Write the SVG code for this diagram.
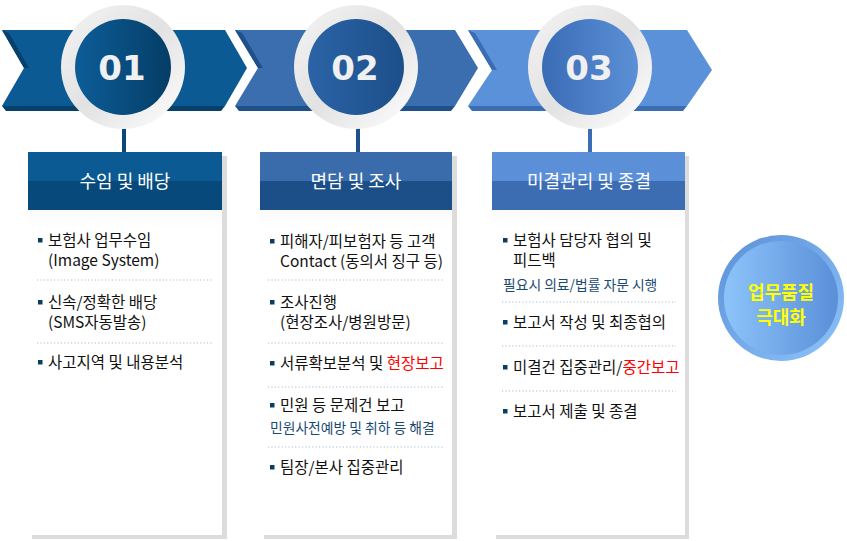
<svg xmlns="http://www.w3.org/2000/svg" width="847" height="541" viewBox="0 0 847 541">
<defs>
<linearGradient id="ring" x1="0" y1="0" x2="1" y2="1"><stop offset="0" stop-color="#f4f4f4"/><stop offset="0.5" stop-color="#e2e2e2"/><stop offset="1" stop-color="#ffffff"/></linearGradient>
<linearGradient id="c1" x1="0" y1="0" x2="1" y2="0"><stop offset="0" stop-color="#0d5d98"/><stop offset="1" stop-color="#053d66"/></linearGradient>
<linearGradient id="c2" x1="0" y1="0" x2="1" y2="0"><stop offset="0" stop-color="#2b63a6"/><stop offset="1" stop-color="#1c4f8a"/></linearGradient>
<linearGradient id="c3" x1="0" y1="0" x2="1" y2="0"><stop offset="0" stop-color="#3a6cb6"/><stop offset="1" stop-color="#5b90d6"/></linearGradient>
<linearGradient id="body" x1="0" y1="0" x2="0" y2="1"><stop offset="0" stop-color="#ececec"/><stop offset="0.2" stop-color="#ffffff"/><stop offset="1" stop-color="#ffffff"/></linearGradient>
<linearGradient id="bigIn" x1="0" y1="0" x2="1" y2="0"><stop offset="0" stop-color="#8cc4fa"/><stop offset="1" stop-color="#5a8fd8"/></linearGradient>
<linearGradient id="bigOut" x1="0" y1="0" x2="1" y2="1"><stop offset="0" stop-color="#5c90d8"/><stop offset="1" stop-color="#8cc4fa"/></linearGradient>
</defs>
<style>
.t{font-family:"Noto Sans CJK KR","Noto Sans",sans-serif;font-size:15.5px;fill:#111;}
.s{font-family:"Noto Sans CJK KR","Noto Sans",sans-serif;font-size:13.8px;fill:#1a4a72;}
.h{font-family:"Noto Sans CJK KR","Noto Sans",sans-serif;font-size:18px;fill:#fff;text-anchor:middle;}
.n{font-family:"DejaVu Sans","Liberation Sans",sans-serif;font-size:34px;font-weight:bold;fill:#f0f0f0;text-anchor:middle;}
.big{font-family:"Noto Sans CJK KR",sans-serif;font-size:18px;font-weight:bold;fill:#ffff00;text-anchor:middle;}
.red{fill:#ff0000;}
.dot{stroke:#a8bccd;stroke-width:1.2;stroke-dasharray:1.2 2.2;fill:none;}
.sh{fill:#dcdcdc;}
.b{fill:#0a3d62;}
</style>

<g id="chevrons">
<polygon points="2,30 225,30 247,68 225,106 2,106 24,68" fill="#0b5a93"/>
<polygon points="2,106 225,106 221,111 6,111" fill="#07406b"/>
<polygon points="2,30 24,68 29,68 9,33" fill="#07406b"/>
<polygon points="235,30 455,30 478,68 455,106 235,106 258,68" fill="#3a6eae"/>
<polygon points="235,106 455,106 451,111 239,111" fill="#1f5089"/>
<polygon points="235,30 258,68 263,68 242,33" fill="#1f5089"/>
<polygon points="468,30 687,30 712,70 687,106 468,106 492,70" fill="#5b91d9"/>
<polygon points="468,106 687,106 683,111 472,111" fill="#3b6db3"/>
<polygon points="468,30 492,70 497,70 475,33" fill="#3b6db3"/>
</g>

<g id="connectors">
<line x1="124" y1="128" x2="124" y2="153" stroke="#0a4877" stroke-width="4"/>
<line x1="358" y1="128" x2="358" y2="153" stroke="#1f5089" stroke-width="4"/>
<line x1="590" y1="128" x2="590" y2="153" stroke="#3b6db3" stroke-width="4"/>
</g>

<g id="step1">
<circle cx="123" cy="67" r="62" fill="url(#ring)"/>
<circle cx="123" cy="67" r="48" fill="url(#c1)"/>
<text class="n" x="122" y="80">01</text>
</g>
<g id="step2">
<circle cx="356" cy="67" r="62" fill="url(#ring)"/>
<circle cx="356" cy="67" r="48" fill="url(#c2)"/>
<text class="n" x="355" y="80">02</text>
</g>
<g id="step3">
<circle cx="590" cy="67" r="62" fill="url(#ring)"/>
<circle cx="590" cy="67" r="48" fill="url(#c3)"/>
<text class="n" x="589" y="80">03</text>
</g>

<g id="box1">
<rect class="sh" x="32" y="156" width="195" height="383"/>
<rect x="28" y="152" width="194" height="383" fill="url(#body)"/>
<rect x="28" y="152" width="194" height="29" fill="#0b5a93"/>
<rect x="28" y="181" width="194" height="29" fill="#06497a"/>
<text class="h" x="125" y="188">수임 및 배당</text>
<rect class="b" x="38" y="238" width="4.5" height="4.5"/>
<text class="t" x="48" y="246">보험사  업무수임</text>
<text class="t" x="48" y="266">(Image System)</text>
<line class="dot" x1="37" y1="280" x2="212" y2="280"/>
<rect class="b" x="38" y="300" width="4.5" height="4.5"/>
<text class="t" x="48" y="308">신속/정확한  배당</text>
<text class="t" x="48" y="328">(SMS자동발송)</text>
<line class="dot" x1="37" y1="343" x2="212" y2="343"/>
<rect class="b" x="38" y="360" width="4.5" height="4.5"/>
<text class="t" x="48" y="368">사고지역 및  내용분석</text>
</g>

<g id="box2">
<rect class="sh" x="264" y="156" width="193" height="383"/>
<rect x="260" y="152" width="192" height="383" fill="url(#body)"/>
<rect x="260" y="152" width="192" height="29" fill="#3a6cab"/>
<rect x="260" y="181" width="192" height="29" fill="#1c4f88"/>
<text class="h" x="356" y="188">면담 및 조사</text>
<rect class="b" x="270" y="239" width="4.5" height="4.5"/>
<text class="t" x="280" y="247">피해자/피보험자 등 고객</text>
<text class="t" x="280" y="267">Contact (동의서 징구 등)</text>
<line class="dot" x1="268" y1="280" x2="443" y2="280"/>
<rect class="b" x="270" y="300" width="4.5" height="4.5"/>
<text class="t" x="280" y="308">조사진행</text>
<text class="t" x="280" y="328">(현장조사/병원방문)</text>
<line class="dot" x1="268" y1="343" x2="443" y2="343"/>
<rect class="b" x="270" y="361" width="4.5" height="4.5"/>
<text class="t" x="280" y="369">서류확보분석 및 <tspan class="red">현장보고</tspan></text>
<line class="dot" x1="268" y1="387" x2="443" y2="387"/>
<rect class="b" x="270" y="403" width="4.5" height="4.5"/>
<text class="t" x="280" y="411">민원 등 문제건 보고</text>
<text class="s" x="270" y="433">민원사전예방 및 취하 등 해결</text>
<line class="dot" x1="268" y1="447" x2="443" y2="447"/>
<rect class="b" x="270" y="465" width="4.5" height="4.5"/>
<text class="t" x="280" y="473">팀장/본사 집중관리</text>
</g>

<g id="box3">
<rect class="sh" x="496" y="156" width="193" height="383"/>
<rect x="492" y="152" width="193" height="383" fill="url(#body)"/>
<rect x="492" y="152" width="193" height="29" fill="#5b8fd8"/>
<rect x="492" y="181" width="193" height="29" fill="#3c6db3"/>
<text class="h" x="589" y="188">미결관리 및 종결</text>
<rect class="b" x="503" y="238" width="4.5" height="4.5"/>
<text class="t" x="513" y="246">보험사 담당자  협의 및</text>
<text class="t" x="513" y="266">피드백</text>
<text class="s" x="503" y="290">필요시 의료/법률 자문 시행</text>
<line class="dot" x1="502" y1="302" x2="676" y2="302"/>
<rect class="b" x="503" y="320" width="4.5" height="4.5"/>
<text class="t" x="513" y="328">보고서 작성 및 최종협의</text>
<line class="dot" x1="502" y1="346" x2="676" y2="346"/>
<rect class="b" x="503" y="365" width="4.5" height="4.5"/>
<text class="t" x="513" y="373">미결건 집중관리/<tspan class="red">중간보고</tspan></text>
<line class="dot" x1="502" y1="391" x2="676" y2="391"/>
<rect class="b" x="503" y="409" width="4.5" height="4.5"/>
<text class="t" x="513" y="417">보고서  제출 및 종결</text>
</g>

<g id="result">
<circle cx="781" cy="298" r="63" fill="url(#bigOut)"/>
<circle cx="781" cy="298" r="57" fill="url(#bigIn)"/>
<text class="big" x="781" y="299">업무품질</text>
<text class="big" x="781" y="324">극대화</text>
</g>
</svg>
